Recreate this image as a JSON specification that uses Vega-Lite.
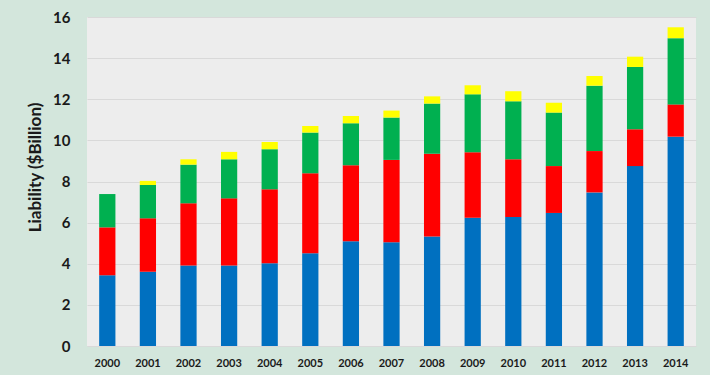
{
  "$schema": "https://vega.github.io/schema/vega-lite/v6.json",
  "width": 609,
  "height": 329,
  "autosize": {"type": "none"},
  "padding": {"left": 87, "top": 17, "right": 14, "bottom": 29},
  "background": "#d3e6dc",
  "config": {
    "font": "Lato",
    "view": {"fill": "#ededed", "stroke": null},
    "axis": {"labelFont": "Lato", "titleFont": "Lato"}
  },
  "data": {
    "values": [
      {"year": "2000", "component": "Blue", "ord": 1, "value": 3.44},
      {"year": "2000", "component": "Red", "ord": 2, "value": 2.33},
      {"year": "2000", "component": "Green", "ord": 3, "value": 1.62},
      {"year": "2000", "component": "Yellow", "ord": 4, "value": 0},
      {"year": "2001", "component": "Blue", "ord": 1, "value": 3.61},
      {"year": "2001", "component": "Red", "ord": 2, "value": 2.6},
      {"year": "2001", "component": "Green", "ord": 3, "value": 1.62},
      {"year": "2001", "component": "Yellow", "ord": 4, "value": 0.2},
      {"year": "2002", "component": "Blue", "ord": 1, "value": 3.91},
      {"year": "2002", "component": "Red", "ord": 2, "value": 3.03},
      {"year": "2002", "component": "Green", "ord": 3, "value": 1.88},
      {"year": "2002", "component": "Yellow", "ord": 4, "value": 0.26},
      {"year": "2003", "component": "Blue", "ord": 1, "value": 3.91},
      {"year": "2003", "component": "Red", "ord": 2, "value": 3.27},
      {"year": "2003", "component": "Green", "ord": 3, "value": 1.9},
      {"year": "2003", "component": "Yellow", "ord": 4, "value": 0.36},
      {"year": "2004", "component": "Blue", "ord": 1, "value": 4.02},
      {"year": "2004", "component": "Red", "ord": 2, "value": 3.6},
      {"year": "2004", "component": "Green", "ord": 3, "value": 1.95},
      {"year": "2004", "component": "Yellow", "ord": 4, "value": 0.35},
      {"year": "2005", "component": "Blue", "ord": 1, "value": 4.51},
      {"year": "2005", "component": "Red", "ord": 2, "value": 3.89},
      {"year": "2005", "component": "Green", "ord": 3, "value": 1.98},
      {"year": "2005", "component": "Yellow", "ord": 4, "value": 0.32},
      {"year": "2006", "component": "Blue", "ord": 1, "value": 5.09},
      {"year": "2006", "component": "Red", "ord": 2, "value": 3.7},
      {"year": "2006", "component": "Green", "ord": 3, "value": 2.04},
      {"year": "2006", "component": "Yellow", "ord": 4, "value": 0.36},
      {"year": "2007", "component": "Blue", "ord": 1, "value": 5.04},
      {"year": "2007", "component": "Red", "ord": 2, "value": 4.01},
      {"year": "2007", "component": "Green", "ord": 3, "value": 2.06},
      {"year": "2007", "component": "Yellow", "ord": 4, "value": 0.34},
      {"year": "2008", "component": "Blue", "ord": 1, "value": 5.32},
      {"year": "2008", "component": "Red", "ord": 2, "value": 4.03},
      {"year": "2008", "component": "Green", "ord": 3, "value": 2.44},
      {"year": "2008", "component": "Yellow", "ord": 4, "value": 0.35},
      {"year": "2009", "component": "Blue", "ord": 1, "value": 6.24},
      {"year": "2009", "component": "Red", "ord": 2, "value": 3.18},
      {"year": "2009", "component": "Green", "ord": 3, "value": 2.82},
      {"year": "2009", "component": "Yellow", "ord": 4, "value": 0.44},
      {"year": "2010", "component": "Blue", "ord": 1, "value": 6.27},
      {"year": "2010", "component": "Red", "ord": 2, "value": 2.81},
      {"year": "2010", "component": "Green", "ord": 3, "value": 2.82},
      {"year": "2010", "component": "Yellow", "ord": 4, "value": 0.49},
      {"year": "2011", "component": "Blue", "ord": 1, "value": 6.47},
      {"year": "2011", "component": "Red", "ord": 2, "value": 2.28},
      {"year": "2011", "component": "Green", "ord": 3, "value": 2.6},
      {"year": "2011", "component": "Yellow", "ord": 4, "value": 0.48},
      {"year": "2012", "component": "Blue", "ord": 1, "value": 7.47},
      {"year": "2012", "component": "Red", "ord": 2, "value": 2.01},
      {"year": "2012", "component": "Green", "ord": 3, "value": 3.18},
      {"year": "2012", "component": "Yellow", "ord": 4, "value": 0.47},
      {"year": "2013", "component": "Blue", "ord": 1, "value": 8.75},
      {"year": "2013", "component": "Red", "ord": 2, "value": 1.79},
      {"year": "2013", "component": "Green", "ord": 3, "value": 3.03},
      {"year": "2013", "component": "Yellow", "ord": 4, "value": 0.5},
      {"year": "2014", "component": "Blue", "ord": 1, "value": 10.18},
      {"year": "2014", "component": "Red", "ord": 2, "value": 1.57},
      {"year": "2014", "component": "Green", "ord": 3, "value": 3.22},
      {"year": "2014", "component": "Yellow", "ord": 4, "value": 0.53}
    ]
  },
  "mark": {"type": "bar"},
  "encoding": {
    "x": {
      "field": "year",
      "type": "ordinal",
      "scale": {"paddingInner": 0.6, "paddingOuter": 0.3},
      "axis": {
        "title": null,
        "labelAngle": 0,
        "labelFontSize": 11,
        "labelFontWeight": "bold",
        "labelColor": "#1a1a1a",
        "labelPadding": 11,
        "ticks": false,
        "domain": false
      }
    },
    "y": {
      "field": "value",
      "type": "quantitative",
      "stack": "zero",
      "scale": {"domain": [0, 16], "nice": false},
      "axis": {
        "title": "Liability ($Billion)",
        "titleFontSize": 17,
        "titleFontWeight": "bold",
        "titleColor": "#1a1a1a",
        "titlePadding": 8,
        "titleY": 150,
        "titleAlign": "center",
        "values": [0, 2, 4, 6, 8, 10, 12, 14, 16],
        "labelFontSize": 15,
        "labelFontWeight": "bold",
        "labelColor": "#1a1a1a",
        "labelPadding": 17,
        "ticks": false,
        "domain": false,
        "gridColor": "#d9d9d9",
        "gridWidth": 1
      }
    },
    "color": {
      "field": "component",
      "type": "nominal",
      "scale": {
        "domain": ["Blue", "Red", "Green", "Yellow"],
        "range": ["#0070c0", "#ff0000", "#00b050", "#ffff00"]
      },
      "legend": null
    },
    "order": {"field": "ord", "type": "quantitative"}
  }
}
